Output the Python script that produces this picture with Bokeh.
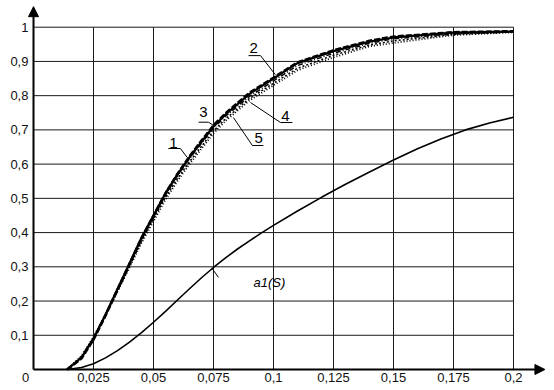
from bokeh.plotting import figure
from bokeh.models import Range1d, Arrow, NormalHead
from bokeh.core.properties import value
from bokeh.embed import file_html
from bokeh.resources import INLINE

# ---- data ----
x_main = [0.014, 0.02, 0.025, 0.03, 0.035, 0.04, 0.045, 0.05, 0.055, 0.06, 0.065,
          0.07, 0.075, 0.08, 0.09, 0.1, 0.11, 0.125, 0.14, 0.15, 0.175, 0.2]
curve1 = [0.0, 0.035, 0.09, 0.16, 0.235, 0.31, 0.385, 0.45, 0.515, 0.57, 0.62,
          0.665, 0.71, 0.745, 0.805, 0.85, 0.895, 0.93, 0.958, 0.97, 0.984, 0.987]
curve2 = [0.0, 0.033, 0.088, 0.158, 0.233, 0.308, 0.383, 0.449, 0.514, 0.571, 0.622,
          0.668, 0.713, 0.748, 0.808, 0.852, 0.897, 0.932, 0.96, 0.972, 0.985, 0.988]
curve3 = [0.0, 0.034, 0.089, 0.159, 0.233, 0.307, 0.382, 0.447, 0.511, 0.566, 0.616,
          0.661, 0.705, 0.74, 0.798, 0.843, 0.888, 0.924, 0.953, 0.966, 0.981, 0.986]
curve4 = [0.0, 0.04, 0.095, 0.16, 0.228, 0.298, 0.37, 0.433, 0.496, 0.551, 0.6,
          0.645, 0.69, 0.726, 0.786, 0.83, 0.874, 0.912, 0.944, 0.954, 0.977, 0.985]
curve5 = [0.0, 0.038, 0.093, 0.16, 0.23, 0.302, 0.375, 0.44, 0.503, 0.558, 0.607,
          0.652, 0.697, 0.732, 0.792, 0.836, 0.88, 0.918, 0.948, 0.96, 0.979, 0.986]
x_a1 = [0.014, 0.02, 0.025, 0.03, 0.035, 0.04, 0.045, 0.05, 0.055, 0.06, 0.065,
        0.07, 0.075, 0.08, 0.085, 0.09, 0.095, 0.1, 0.11, 0.12, 0.13, 0.14, 0.15,
        0.16, 0.17, 0.18, 0.19, 0.2]
a1 = [0.0, 0.006, 0.017, 0.034, 0.055, 0.08, 0.108, 0.138, 0.17, 0.203, 0.236,
      0.268, 0.298, 0.326, 0.352, 0.376, 0.399, 0.421, 0.463, 0.503, 0.541, 0.577,
      0.612, 0.645, 0.674, 0.7, 0.72, 0.737]

x_ticks = [0.025, 0.05, 0.075, 0.1, 0.125, 0.15, 0.175, 0.2]
x_tick_labels = ["0,025", "0,05", "0,075", "0,1", "0,125", "0,15", "0,175", "0,2"]
y_ticks = [0.1, 0.2, 0.3, 0.4, 0.5, 0.6, 0.7, 0.8, 0.9, 1.0]
y_tick_labels = ["0,1", "0,2", "0,3", "0,4", "0,5", "0,6", "0,7", "0,8", "0,9", "1"]

# curve labels: text, text position, underline x-span, leader end point
lab_text = ["1", "2", "3", "4", "5"]
lab_x = [0.0583, 0.0917, 0.0708, 0.105, 0.0938]
lab_y = [0.663, 0.938, 0.751, 0.742, 0.675]
ul_x0 = [0.0562, 0.0896, 0.0688, 0.1029, 0.0912]
ul_x1 = [0.0612, 0.0946, 0.0729, 0.1079, 0.0958]
ul_y = [0.6456, 0.917, 0.7225, 0.7216, 0.6544]
ld_x1 = [0.0640, 0.1008, 0.0750, 0.0904, 0.0833]
ld_y1 = [0.620, 0.861, 0.713, 0.780, 0.736]

# ---- figure geometry ----
W, H = 548, 386
PX_X = 2400.0   # px per x unit
PX_Y = 342.3    # px per y unit
x0 = -33 / PX_X
y0 = -(H - 369) / PX_Y
p = figure(width=W, height=H, output_backend="svg", toolbar_location=None,
           x_range=Range1d(x0, x0 + W / PX_X), y_range=Range1d(y0, y0 + H / PX_Y),
           x_axis_type=None, y_axis_type=None, min_border=0)
p.outline_line_color = None
p.background_fill_color = "white"
p.border_fill_color = "white"

grid_col = "#1a1a1a"
# grid
p.segment(x0=x_ticks, y0=[0] * len(x_ticks), x1=x_ticks, y1=[1.0] * len(x_ticks),
          line_color=grid_col, line_width=1)
p.segment(x0=[0] * len(y_ticks), y0=y_ticks, x1=[0.2] * len(y_ticks), y1=y_ticks,
          line_color=grid_col, line_width=1)

# axes with arrows
p.add_layout(Arrow(end=NormalHead(size=10, fill_color="black", line_color="black"),
                   x_start=0, y_start=0, x_end=0, y_end=1.06,
                   line_color="black", line_width=2))
p.add_layout(Arrow(end=NormalHead(size=10, fill_color="black", line_color="black"),
                   x_start=0, y_start=0, x_end=0.2131, y_end=0,
                   line_color="black", line_width=2))

# curves
p.line(x_a1, a1, line_color="black", line_width=1.6)
p.line(x_main, curve4, line_color="black", line_width=1.8, line_dash="1 2")
p.line(x_main, curve5, line_color="black", line_width=1.5, line_dash="2 2")
p.line(x_main, curve3, line_color="black", line_width=1.5, line_dash="5 2 1 2")
p.line(x_main, curve1, line_color="black", line_width=2.2)
p.line(x_main, curve2, line_color="black", line_width=2.8, line_dash="6 2")

# tick labels
font = value("Liberation Sans")
p.text(x=[-0.0021] * len(y_ticks), y=y_ticks, text=y_tick_labels, text_font=font,
       text_font_size="13px", text_align="right", text_baseline="middle", text_color="#111")
p.text(x=x_ticks, y=[-0.0234] * len(x_ticks), text=x_tick_labels, text_font=font,
       text_font_size="13px", text_align="center", text_baseline="middle", text_color="#111")
p.text(x=[-0.0033], y=[-0.0234], text=["0"], text_font=font,
       text_font_size="13px", text_align="center", text_baseline="middle", text_color="#111")

# curve labels with underline and leader
p.text(x=lab_x, y=lab_y, text=lab_text, text_font=font, text_font_size="15px",
       text_align="center", text_baseline="middle", text_color="black")
p.segment(x0=ul_x0, y0=ul_y, x1=ul_x1, y1=ul_y, line_color="black", line_width=1)
ld_x0 = [ul_x1[0], ul_x1[1], ul_x1[2], ul_x0[3], ul_x0[4]]
p.segment(x0=ld_x0, y0=ul_y, x1=ld_x1, y1=ld_y1, line_color="black", line_width=1)

# a1(S) label
p.segment(x0=[0.0742], y0=[0.297], x1=[0.0771], y1=[0.269], line_color="black", line_width=1)
p.text(x=[0.0917], y=[0.254], text=["a1(S)"], text_font=font, text_font_size="13px",
       text_font_style="italic", text_align="left", text_baseline="middle", text_color="black")

open("out.html", "w").write(file_html(p, INLINE))
